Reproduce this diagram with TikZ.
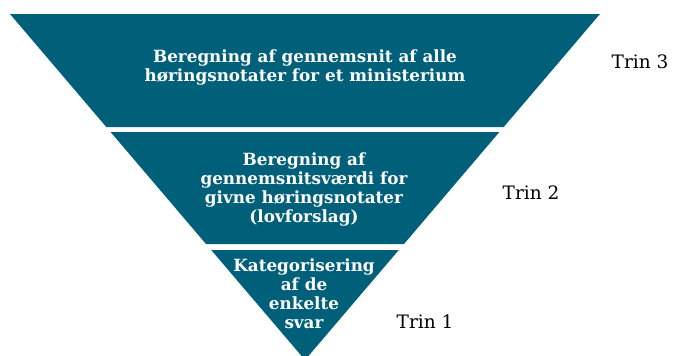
\documentclass[tikz,border=0pt]{standalone}
\usepackage{fontspec}
\setmainfont{DejaVu Serif}
\definecolor{trinColor}{HTML}{00607A}

\begin{document}
\begin{tikzpicture}[x=1pt,y=-1pt,
    trintext/.style={text=white,font=\bfseries\fontsize{16.8}{19}\selectfont,align=center},
    trinlabel/.style={font=\fontsize{18.5}{20}\selectfont}]
  \useasboundingbox (0,0) rectangle (673,356);
  % the three bands of the funnel
  \draw[fill=trinColor, draw=none] (10,14) -- (600,14) -- (503.7,127) -- (106.3,127) -- cycle;
  \draw[fill=trinColor, draw=none] (110.6,132) -- (499.4,132) -- (404,244) -- (206,244) -- cycle;
  \draw[fill=trinColor, draw=none] (211.2,250) -- (398.8,250) -- (305,360) -- cycle;

  \node[trintext] (tre) at (305,67) {Beregning af gennemsnit af alle\\høringsnotater for et ministerium};
  \node[trintext] (to) at (304,189) {Beregning af\\gennemsnitsværdi for\\givne høringsnotater\\(lovforslag)};
  \node[trintext] (en) at (304,294) {Kategorisering\\af de\\enkelte\\svar};

  \node[trinlabel] (trin3) at (640,62) {Trin 3};
  \node[trinlabel] (trin2) at (531,193) {Trin 2};
  \node[trinlabel] (trin1) at (425,322) {Trin 1};
\end{tikzpicture}
\end{document}
